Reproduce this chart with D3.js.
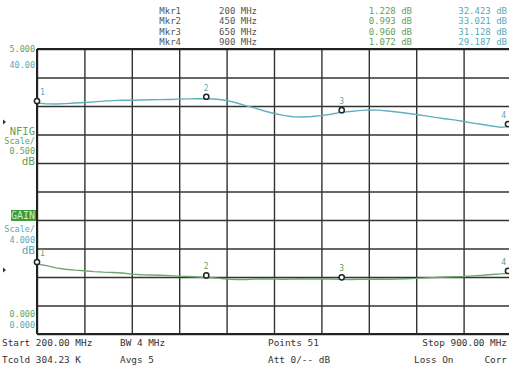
<!DOCTYPE html>
<html>
<head>
<meta charset="utf-8">
<script src="https://cdn.jsdelivr.net/npm/d3@7"></script>
<style>
  html, body { margin: 0; padding: 0; background: #fff; }
  svg { display: block; }
  text { font-family: "DejaVu Sans Mono", monospace; }
</style>
</head>
<body>
<svg id="chart" width="509" height="365"></svg>
<script>
// Sweep: 51 points, 200 MHz to 900 MHz
const startMHz = 200;
const stopMHz = 900;
const stepMHz = 14;
const freqGridMHz = [200, 270, 340, 410, 480, 550, 620, 690, 760, 830, 900];

// Gain trace (dB), one value per sweep point
const gainDb = [
  32.42, 32.30, 32.28, 32.34, 32.42, 32.50, 32.58, 32.68, 32.76, 32.82,
  32.80, 32.84, 32.88, 32.90, 32.92, 32.96, 33.00, 33.02, 33.02, 32.95,
  32.78, 32.45, 32.05, 31.70, 31.30, 30.95, 30.68, 30.50, 30.45, 30.52,
  30.65, 30.85, 31.10, 31.22, 31.35, 31.45, 31.42, 31.30, 31.15, 30.98,
  30.80, 30.62, 30.40, 30.22, 30.05, 29.82, 29.60, 29.40, 29.20, 29.00,
  29.19
];

// Noise figure trace (dB), one value per sweep point
const nfigDb = [
  1.228, 1.200, 1.160, 1.135, 1.120, 1.110, 1.095, 1.085, 1.080, 1.070,
  1.050, 1.040, 1.035, 1.030, 1.025, 1.015, 1.010, 1.000, 0.990, 0.980,
  0.965, 0.955, 0.955, 0.965, 0.970, 0.965, 0.960, 0.965, 0.970, 0.965,
  0.970, 0.965, 0.960, 0.955, 0.960, 0.960, 0.965, 0.960, 0.965, 0.970,
  0.975, 0.985, 0.990, 1.000, 1.005, 1.010, 1.020, 1.030, 1.045, 1.055,
  1.072
];

// Markers
const markerNames = ["Mkr1", "Mkr2", "Mkr3", "Mkr4"];
const markerMHz = [200, 450, 650, 900];
const markerNfig = [1.228, 0.993, 0.960, 1.072];
const markerGain = [32.423, 33.021, 31.128, 29.187];

// Display scales: 10 divisions each
const nfigRange = [0, 5];      // 0.500 dB/div
const gainRange = [0, 40];     // 4.000 dB/div

const colNfig = "#6fa66c";
const colGain = "#5fb0c0";
const colNfigText = "#5f9f5c";
const colGainText = "#58a9bb";
const colInfo = "#555";
const colGrid = "#333";

const svg = d3.select("#chart");
const plot = { left: 37, right: 511, top: 49, bottom: 334 };

const x = d3.scaleLinear().domain([startMHz, stopMHz]).range([plot.left, plot.right]);
const yNf = d3.scaleLinear().domain(nfigRange).range([plot.bottom, plot.top]);
const yGain = d3.scaleLinear().domain(gainRange).range([plot.bottom, plot.top]);

const freqs = gainDb.map((_, i) => startMHz + i * stepMHz);

// Grid
const gridTicks = d3.range(0, 5.0001, 0.5);
svg.append("g")
  .attr("transform", `translate(0,${plot.bottom})`)
  .call(d3.axisBottom(x).tickValues(freqGridMHz).tickSize(-(plot.bottom - plot.top)).tickFormat(""))
  .call(g => g.select(".domain").remove())
  .call(g => g.selectAll("line").attr("stroke", colGrid).attr("stroke-width", 1.4));

svg.append("g")
  .attr("transform", `translate(${plot.left},0)`)
  .call(d3.axisLeft(yNf).tickValues(gridTicks).tickSize(-(plot.right - plot.left)).tickFormat(""))
  .call(g => g.select(".domain").remove())
  .call(g => g.selectAll("line").attr("stroke", colGrid).attr("stroke-width", 1.4));

// Frame edges
svg.append("line").attr("x1", plot.left).attr("x2", plot.right)
  .attr("y1", plot.top).attr("y2", plot.top).attr("stroke", "#222").attr("stroke-width", 2);
svg.append("line").attr("x1", plot.left).attr("x2", plot.right)
  .attr("y1", plot.bottom).attr("y2", plot.bottom).attr("stroke", "#222").attr("stroke-width", 2);
svg.append("line").attr("x1", plot.left).attr("x2", plot.left)
  .attr("y1", plot.top).attr("y2", plot.bottom).attr("stroke", "#222").attr("stroke-width", 2);

// Traces
const gainLine = d3.line().x((d, i) => x(freqs[i])).y(d => yGain(d));
const nfLine = d3.line().x((d, i) => x(freqs[i])).y(d => yNf(d));

svg.append("path").datum(gainDb).attr("d", gainLine)
  .attr("fill", "none").attr("stroke", colGain).attr("stroke-width", 1.4);
svg.append("path").datum(nfigDb).attr("d", nfLine)
  .attr("fill", "none").attr("stroke", colNfig).attr("stroke-width", 1.4);

// Marker symbols with numbers
function drawMarkers(values, yScale, color) {
  const g = svg.append("g");
  values.forEach((v, i) => {
    const cx = Math.min(x(markerMHz[i]), 508);
    const cy = yScale(v) - 2;
    g.append("circle").attr("cx", cx).attr("cy", cy).attr("r", 2.6)
      .attr("fill", "#fff").attr("stroke", "#222").attr("stroke-width", 1.5);
    g.append("text").attr("x", i === 0 ? cx + 3 : (i === 3 ? cx - 2 : cx))
      .attr("y", cy - 6)
      .attr("text-anchor", i === 0 ? "start" : (i === 3 ? "end" : "middle"))
      .attr("font-size", 8).attr("fill", color)
      .text(i + 1);
  });
}
drawMarkers(markerGain, yGain, colGainText);
drawMarkers(markerNfig, yNf, colNfigText);

// Marker readout table
const rowY = [13.5, 24, 34.5, 45];
const fmtMHz = d => `${d} MHz`;
markerNames.forEach((name, i) => {
  svg.append("text").attr("x", 181).attr("y", rowY[i]).attr("text-anchor", "end")
    .attr("font-size", 9).attr("fill", colInfo).text(name);
  svg.append("text").attr("x", 257).attr("y", rowY[i]).attr("text-anchor", "end")
    .attr("font-size", 9).attr("fill", colInfo).text(fmtMHz(markerMHz[i]));
  svg.append("text").attr("x", 412).attr("y", rowY[i]).attr("text-anchor", "end")
    .attr("font-size", 9).attr("fill", colNfigText).text(`${markerNfig[i].toFixed(3)} dB`);
  svg.append("text").attr("x", 507).attr("y", rowY[i]).attr("text-anchor", "end")
    .attr("font-size", 9).attr("fill", colGainText).text(`${markerGain[i].toFixed(3)} dB`);
});

// Left-hand scale annotations
const leftLabels = [
  { t: d3.format(".3f")(nfigRange[1]), y: 52, c: colNfigText, s: 8.5 },
  { t: d3.format(".2f")(gainRange[1]), y: 68, c: colGainText, s: 8.5 },
  { t: "NFIG", y: 135, c: colNfigText, s: 10.5 },
  { t: "Scale/", y: 144, c: colNfigText, s: 8.5 },
  { t: "0.500", y: 154, c: colNfigText, s: 8.5 },
  { t: "dB", y: 165, c: colNfigText, s: 11 },
  { t: "Scale/", y: 232, c: colGainText, s: 8.5 },
  { t: "4.000", y: 242.5, c: colGainText, s: 8.5 },
  { t: "dB", y: 254, c: colGainText, s: 11 },
  { t: d3.format(".3f")(nfigRange[0]), y: 317, c: colNfigText, s: 8.5 },
  { t: d3.format(".3f")(gainRange[0]), y: 327.5, c: colGainText, s: 8.5 }
];
leftLabels.forEach(d => {
  svg.append("text").attr("x", 35).attr("y", d.y).attr("text-anchor", "end")
    .attr("font-size", d.s).attr("fill", d.c).text(d.t);
});

// Active trace tag
svg.append("rect").attr("x", 11).attr("y", 210).attr("width", 25).attr("height", 11)
  .attr("fill", "#3e9a3c");
svg.append("text").attr("x", 35).attr("y", 219).attr("text-anchor", "end")
  .attr("font-size", 10).attr("fill", "#c8f0c0").text("GAIN");

// Reference level pointers
[122, 270].forEach(yy => {
  svg.append("path").attr("d", `M3,${yy - 2.5}L6,${yy}L3,${yy + 2.5}Z`).attr("fill", "#333");
});

// Status lines under the grid
const status = [
  { t: "Start 200.00 MHz", x: 2, y: 346, a: "start" },
  { t: "Tcold 304.23 K", x: 2, y: 363, a: "start" },
  { t: "BW 4 MHz", x: 120, y: 346, a: "start" },
  { t: "Avgs 5", x: 120, y: 363, a: "start" },
  { t: "Points 51", x: 268, y: 346, a: "start" },
  { t: "Att 0/-- dB", x: 268, y: 363, a: "start" },
  { t: "Stop 900.00 MHz", x: 507, y: 346, a: "end" },
  { t: "Loss On", x: 414, y: 363, a: "start" },
  { t: "Corr", x: 507, y: 363, a: "end" }
];
status.forEach(d => {
  svg.append("text").attr("x", d.x).attr("y", d.y).attr("text-anchor", d.a)
    .attr("font-size", 9.4).attr("fill", "#333").text(d.t);
});
</script>
</body>
</html>
